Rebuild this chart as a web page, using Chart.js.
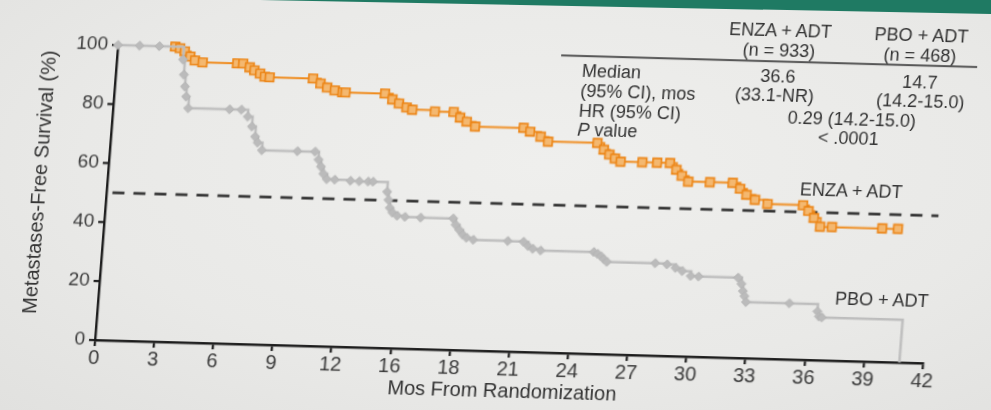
<!DOCTYPE html>
<html lang="en">
<head>
<meta charset="UTF-8" />
<title>Metastases-Free Survival</title>
<script src="https://cdn.jsdelivr.net/npm/chart.js@4.4.1/dist/chart.umd.min.js"></script>
<style>
  html, body { margin: 0; padding: 0; }
  body { width: 991px; height: 410px; overflow: hidden; font-family: "Liberation Sans", Arial, sans-serif; color: #333; }
  #slide { position: relative; width: 991px; height: 410px; overflow: hidden;
    background: radial-gradient(ellipse at 55% 40%, #efefed 0%, #e9e9e7 60%, #e1e1df 100%); }
  #band { position: absolute; left: 0; top: 0; width: 991px; height: 20px; background: #1f7a63;
    clip-path: polygon(260px 0, 991px 0, 991px 14px); }
  /* the photo of the slide is a little skewed, so the whole chart is too */
  #frame { position: absolute; left: 0; top: 0; width: 991px; height: 410px;
    transform-origin: 95px 340px; transform: matrix(1, 0.028, -0.078, 1, 0, 0); }
  #chart { position: absolute; left: 0; top: 0; }
  .t { position: absolute; white-space: nowrap; font-size: 18px; line-height: 20px; transform: translate(-50%, -50%); }
  .l { transform: translate(0, -50%); }
  #rule { position: absolute; left: 538px; top: 42px; width: 416px; height: 1.5px; background: #555; }
</style>
</head>
<body>
<div id="slide">
  <div id="band"></div>
  <div id="frame">
    <canvas id="chart" width="991" height="410"></canvas>

    <div class="t" style="left:27px; top:184px; font-size:20px; transform:translate(-50%,-50%) rotate(-90deg)">Metastases-Free Survival (%)</div>
    <div class="t" style="left:505px; top:379px; font-size:20px">Mos From Randomization</div>

    <div class="t" style="left:755px; top:12px">ENZA + ADT</div>
    <div class="t" style="left:755px; top:32px">(n = 933)</div>
    <div class="t" style="left:896px; top:13px">PBO + ADT</div>
    <div class="t" style="left:896px; top:33px">(n = 468)</div>
    <div id="rule"></div>
    <div class="t l" style="left:560px; top:58px">Median</div>
    <div class="t l" style="left:560px; top:78px">(95% CI), mos</div>
    <div class="t l" style="left:560px; top:98px">HR (95% CI)</div>
    <div class="t l" style="left:560px; top:117px"><i>P</i> value</div>
    <div class="t" style="left:756px; top:58px">36.6</div>
    <div class="t" style="left:754px; top:77px">(33.1-NR)</div>
    <div class="t" style="left:898px; top:60px">14.7</div>
    <div class="t" style="left:900px; top:79px">(14.2-15.0)</div>
    <div class="t" style="left:833px; top:99px">0.29 (14.2-15.0)</div>
    <div class="t" style="left:831px; top:118px">&lt; .0001</div>

    <div class="t" style="left:838px; top:170px">ENZA + ADT</div>
    <div class="t" style="left:877px; top:278px">PBO + ADT</div>
  </div>
</div>
<script>
  const xTickLabels = ['0', '3', '6', '9', '12', '16', '18', '21', '24', '27', '30', '33', '36', '39', '42'];

  const pboMonths = [0, 1.1, 2.1, 3.35, 3.45, 3.55, 3.65, 3.8, 5.9, 6.5, 6.85, 7.1, 7.3, 7.45, 7.7,
    9.5, 10.4, 10.6, 10.75, 10.9, 11.1, 11.5, 12.3, 12.75, 13.2, 13.45, 14.2, 14.3, 14.4, 14.55,
    14.8, 15.2, 16.0, 17.65, 17.8, 18.0, 18.2, 18.4, 18.75, 20.5, 21.3, 21.55, 21.8, 22.2,
    24.9, 25.1, 25.28, 25.43, 25.6, 28.05, 28.65, 29.1, 29.45, 29.9, 30.3, 32.3, 32.5, 32.6,
    32.7, 32.8, 35.0, 36.45, 36.55, 36.7, 40.8];
  const pboSurv = [100, 100, 100, 95.7, 90.6, 86.6, 83.2, 79.3, 79.3, 79.3, 77.0, 73.7, 70.3, 68.3, 65.8,
    65.8, 65.8, 63.1, 60.8, 58.4, 56.6, 56.5, 56.3, 56.2, 56.2, 56.2, 52.9, 50.2, 47.5, 45.9,
    44.9, 44.6, 44.5, 44.5, 42.4, 40.7, 39.1, 38.1, 37.5, 37.4, 37.3, 35.9, 35.0, 34.5,
    34.5, 33.9, 33.1, 32.2, 31.3, 31.3, 31.0, 29.9, 28.9, 27.3, 27.2, 27.2, 25.1, 22.7,
    21.0, 19.0, 19.0, 16.5, 14.8, 14.5, 0];

  const enzaMonths = [0, 2.9, 3.15, 3.4, 3.7, 3.95, 4.35, 6.1, 6.4, 6.75, 7.0, 7.3, 7.55, 7.8,
    10.0, 10.4, 10.75, 11.15, 11.55, 11.7, 13.7, 14.1, 14.45, 14.85, 15.15, 16.3, 17.25, 17.6,
    17.95, 18.4, 20.85, 21.2, 21.75, 22.15, 24.65, 25.0, 25.3, 25.6, 25.9, 27.0, 27.75, 28.4,
    28.75, 29.05, 29.4, 30.5, 31.65, 32.05, 32.4, 32.85, 33.5, 35.3, 35.6, 35.9, 36.25, 36.85,
    39.4, 40.2];
  const enzaSurv = [100, 100, 99.5, 98.5, 96.8, 95.5, 94.9, 94.9, 94.9, 93.7, 92.7, 91.7, 90.7, 90.5,
    90.5, 88.9, 87.6, 86.7, 86.1, 86.1, 86.1, 84.2, 82.9, 81.6, 80.9, 80.5, 80.5, 78.7,
    77.4, 75.8, 75.8, 74.6, 73.0, 71.4, 71.4, 69.2, 67.6, 66.3, 65.3, 65.3, 65.3, 65.3,
    63.1, 61.1, 59.2, 59.2, 59.2, 57.3, 55.3, 53.7, 52.4, 52.3, 50.4, 48.1, 45.2, 45.2,
    45.2, 45.2];

  const medianMonths = [0.3, 42.2];
  const medianSurv = [50, 50];

  function points(xs, ys) {
    return xs.map((x, i) => ({ x: x, y: ys[i] }));
  }

  const tickFont = { family: '"Liberation Sans", Arial, sans-serif', size: 20 };
  const axisColor = '#1a1a1a';

  new Chart(document.getElementById('chart'), {
    type: 'line',
    data: {
      datasets: [
        {
          label: 'PBO + ADT',
          data: points(pboMonths, pboSurv),
          stepped: 'before',
          borderColor: '#bdbdbd',
          borderWidth: 2.5,
          pointStyle: 'rectRot',
          pointRadius: ctx => ctx.dataIndex === pboMonths.length - 1 ? 0 : 4.5,
          pointBackgroundColor: '#bbbbbb',
          pointBorderColor: '#b3b3b3',
          pointBorderWidth: 1,
          clip: false
        },
        {
          label: 'ENZA + ADT',
          data: points(enzaMonths, enzaSurv),
          stepped: 'before',
          borderColor: '#ef8b1d',
          borderWidth: 2,
          pointStyle: 'rect',
          pointRadius: ctx => ctx.dataIndex === 0 ? 0 : 6,
          pointBackgroundColor: '#f4b870',
          pointBorderColor: '#ec8414',
          pointBorderWidth: 1.6,
          clip: false
        },
        {
          label: 'Median',
          data: points(medianMonths, medianSurv),
          borderColor: '#222222',
          borderWidth: 2.6,
          borderDash: [12, 9],
          pointRadius: 0,
          clip: false
        }
      ]
    },
    options: {
      responsive: false,
      animation: false,
      layout: { padding: { left: 0, right: 68, top: 45, bottom: 0 } },
      plugins: { legend: { display: false }, tooltip: { enabled: false } },
      scales: {
        x: {
          type: 'linear',
          min: 0,
          max: 42,
          afterFit: s => { s.height = 70; },
          ticks: {
            stepSize: 3,
            autoSkip: false,
            maxRotation: 0,
            padding: 0,
            color: '#3a3a3a',
            font: tickFont,
            callback: (v, i) => xTickLabels[i]
          },
          grid: { drawOnChartArea: false, drawTicks: true, tickLength: 6, color: axisColor, lineWidth: 2.2 },
          border: { display: true, color: axisColor, width: 2.4 }
        },
        y: {
          min: 0,
          max: 100,
          afterFit: s => { s.width = 95; },
          ticks: { stepSize: 20, padding: 4, color: '#3a3a3a', font: { family: tickFont.family, size: 19 } },
          grid: { drawOnChartArea: false, drawTicks: true, tickLength: 6, color: axisColor, lineWidth: 2.2 },
          border: { display: true, color: axisColor, width: 2.4 }
        }
      }
    }
  });
</script>
</body>
</html>
